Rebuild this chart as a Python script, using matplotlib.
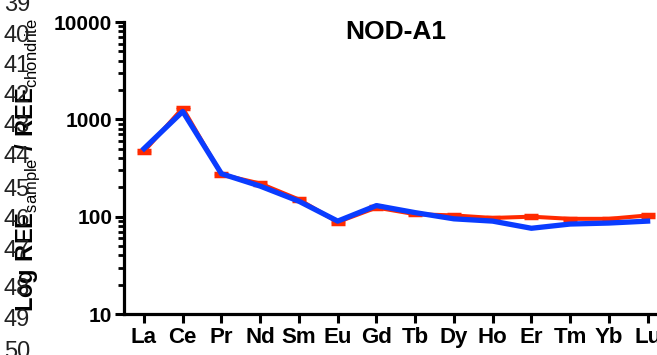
import matplotlib
matplotlib.use('Agg')
import matplotlib.pyplot as plt
from matplotlib.ticker import LogLocator, NullFormatter, FixedLocator, FixedFormatter

plt.rcParams['font.family'] = ['Liberation Sans', 'DejaVu Sans']
plt.rcParams['mathtext.fontset'] = 'custom'
plt.rcParams['mathtext.rm'] = 'Liberation Sans'
plt.rcParams['mathtext.bf'] = 'Liberation Sans:bold'

# REE normalizadas a condrito
elementos = ['La', 'Ce', 'Pr', 'Nd', 'Sm', 'Eu', 'Gd', 'Tb', 'Dy', 'Ho', 'Er', 'Tm', 'Yb', 'Lu']
serie_roja = [469, 1306, 271, 219, 150, 88, 124, 106, 103, 97, 100, 95, 95, 103]
error_rojo = [14, 40, 8, 6, 4, 3, 4, 3, 3, 3, 3, 3, 3, 3]
serie_azul = [500, 1205, 276, 206, 144, 90, 130, 110, 95, 90, 76, 84, 86, 90]

ticks_y = [10, 100, 1000, 10000]
numeros_linea = ['39', '40', '41', '42', '43', '44', '45', '46', '47', '48', '49', '50']
y_numeros = [5, 36, 66, 96, 126, 157, 190, 220, 251, 289, 320, 352]  # px desde arriba

ROJO = '#FF2A00'
AZUL = '#0A3CFF'

fig = plt.figure(figsize=(6.57, 3.55), dpi=100)
ax = fig.add_axes([124 / 657, 41 / 355, 543 / 657, 292 / 355])

x = list(range(len(elementos)))
ax.errorbar(x, serie_roja, yerr=error_rojo, color=ROJO, lw=2.9, capsize=5,
            capthick=2.5, elinewidth=2, zorder=2)
ax.plot(x, serie_azul, color=AZUL, lw=3.8, zorder=3)

ax.set_yscale('log')
ax.set_ylim(10, 10000)
ax.set_xlim(-0.516, 13.5)

ax.yaxis.set_major_locator(FixedLocator(ticks_y))
ax.yaxis.set_major_formatter(FixedFormatter([str(t) for t in ticks_y]))
ax.yaxis.set_minor_locator(LogLocator(base=10, subs=range(2, 10)))
ax.yaxis.set_minor_formatter(NullFormatter())

ax.set_xticks(x)
ax.set_xticklabels(elementos)

for s in ['top', 'right']:
    ax.spines[s].set_visible(False)
for s in ['left', 'bottom']:
    ax.spines[s].set_linewidth(2.3)

ax.tick_params(axis='both', which='major', length=6.5, width=2.2, direction='out')
ax.tick_params(axis='y', which='minor', length=4, width=2)
ax.tick_params(axis='y', labelsize=15, pad=2)
ax.tick_params(axis='x', labelsize=16, pad=3)
for lab in ax.get_xticklabels() + ax.get_yticklabels():
    lab.set_fontweight('bold')

ax.text(0.5, 0.966, 'NOD-A1', transform=ax.transAxes, ha='center', va='center',
        fontsize=19, fontweight='bold')

fig.text(28 / 657, 0.535,
         r'$\mathbf{Log\ REE}_{\mathrm{sample}}\mathbf{\ /\ REE}_{\mathrm{chondrite}}$',
         rotation=90, ha='center', va='center', fontsize=17)

for num, yp in zip(numeros_linea, y_numeros):
    fig.text(4 / 657, 1 - yp / 355, num, ha='left', va='center', fontsize=17, color='#222222')

fig.savefig('out.png', dpi=100)
